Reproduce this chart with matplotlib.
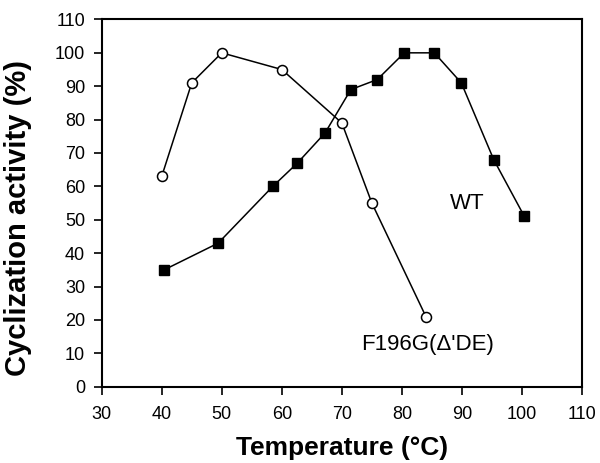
import matplotlib
matplotlib.use("Agg")
import matplotlib.pyplot as plt

plt.rcParams['font.family'] = ['Liberation Sans', 'DejaVu Sans']

# F196G(Δ'DE) mutant, open circles
mut_temp = [40, 45, 50, 60, 70, 75, 84]
mut_act = [63, 91, 100, 95, 79, 55, 21]

# wild type, filled squares
wt_temp = [40.4, 49.4, 58.5, 62.6, 67.2, 71.5, 75.9, 80.4, 85.4, 89.9, 95.3, 100.4]
wt_act = [35, 43, 60, 67, 76, 89, 92, 100, 100, 91, 68, 51]

x_ticks = list(range(30, 111, 10))
y_ticks = list(range(0, 111, 10))

fig = plt.figure(figsize=(6, 4.63), dpi=100)
ax = fig.add_axes([0.1695, 0.1648, 0.8005, 0.7932])

ax.plot(wt_temp, wt_act, color="black", lw=1.1, marker="s", ms=7.7,
        mfc="black", mec="black", zorder=3)
ax.plot(mut_temp, mut_act, color="black", lw=1.1, marker="o", ms=7.2,
        mfc="white", mec="black", mew=1.1, zorder=4)

ax.text(90.8, 55, "WT", fontsize=16, ha="center", va="center")
ax.text(84.2, 12.5, "F196G(\u0394'DE)", fontsize=16, ha="center", va="center")

ax.set_xlim(30, 110)
ax.set_ylim(0, 110)
ax.set_xticks(x_ticks)
ax.set_yticks(y_ticks)
ax.tick_params(direction="out", length=6, width=1.2, labelsize=13)
ax.tick_params(axis="y", pad=6)
ax.tick_params(axis="x", pad=8)
for s in ax.spines.values():
    s.set_linewidth(1.5)

ax.set_xlabel("Temperature (\u00b0C)", fontsize=19, fontweight="bold", va="top")
ax.xaxis.set_label_coords(0.5, -0.135)
ax.set_ylabel("Cyclization activity (%)", fontsize=21, fontweight="bold")
ax.yaxis.set_label_coords(-0.145, 0.46)

fig.savefig("out.png", dpi=100)
